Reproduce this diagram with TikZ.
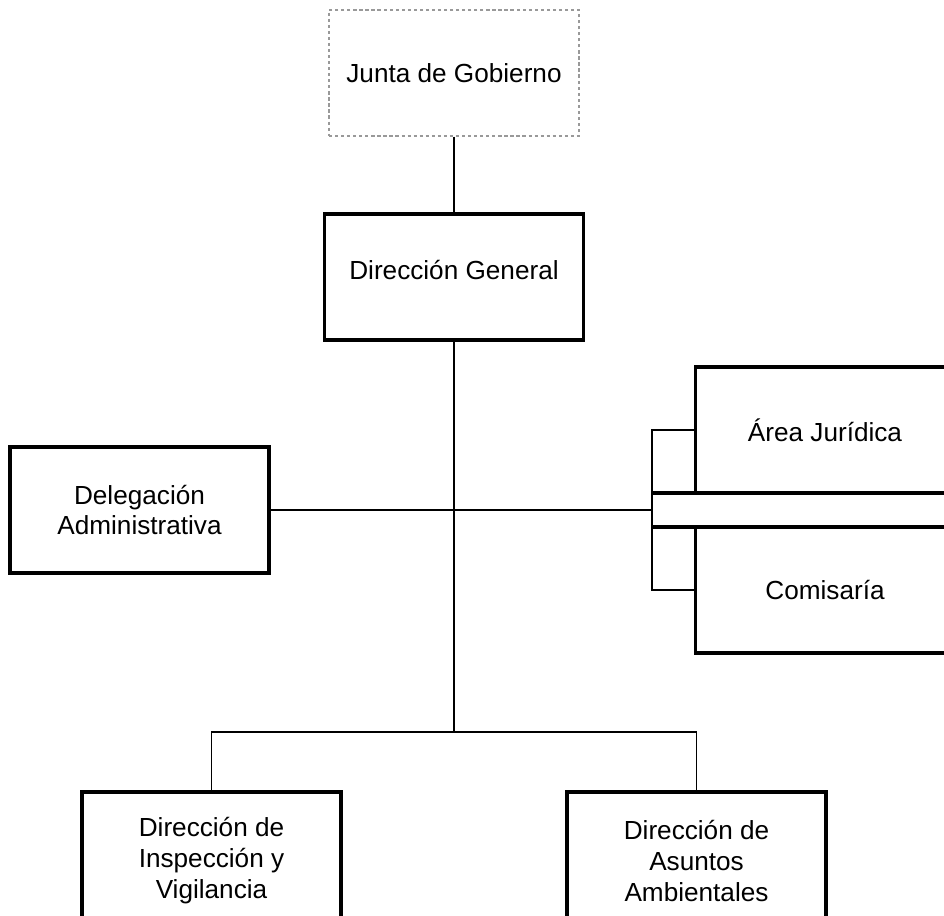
\documentclass[tikz,border=0pt]{standalone}
\usepackage{fontspec}
\setmainfont{Liberation Sans}
\usetikzlibrary{positioning}

\begin{document}
\begin{tikzpicture}[-,x=0.025cm,y=-0.025cm,main node/.style={rectangle, draw, line width=2.3pt, minimum width=6.475cm, minimum height=3.15cm, align=center, font=\fontsize{18.6}{22}\selectfont},link/.style={line width=1.4pt}]
			\useasboundingbox (0,0) rectangle (944,915);
			% Nodes
			\node [main node, draw=gray!80, dotted, line width=1pt, minimum width=6.25cm] (1) at (454,73) {Junta de Gobierno};
			\node[main node, text depth=0.35cm] (2) at (454,277) {Direcci\'on General};
			\node[main node] (3) at (139.5,510) {Delegaci\'on\\Administrativa};
			\node[main node] (4) at (825,430) {\'Area Jur\'idica};
			\node[main node] (5) at (825,590) {Comisar\'ia};
			\node[minimum width=7.55cm, minimum height=0.85cm, inner sep=0pt, outer sep=0pt] (8) at (803,510) {};
			\node[main node, minimum height=3.45cm] (6) at (211.5,861) {Direcci\'on de\\Inspecci\'on y\\Vigilancia};
			\node[main node, minimum height=3.45cm] (7) at (696.5,861) {Direcci\'on de\\Asuntos\\Ambientales};
			
			\coordinate (c) at (454,510);
			\coordinate (r) at (652,510);
			\coordinate (b) at (454,732);
			
			\draw[line width=2.3pt] (8.north west) -- (8.north east) (8.south west) -- (8.south east);
			
			\path[link]
			(1) edge (2)
			(2) edge (b)
			(3) edge (r);
			
			\draw[link] (4.west) -| (r) |- (5.west);
			\draw[link] (b) -| (6);
			\draw[link] (b) -| (7);
			
		\end{tikzpicture}
\end{document}
